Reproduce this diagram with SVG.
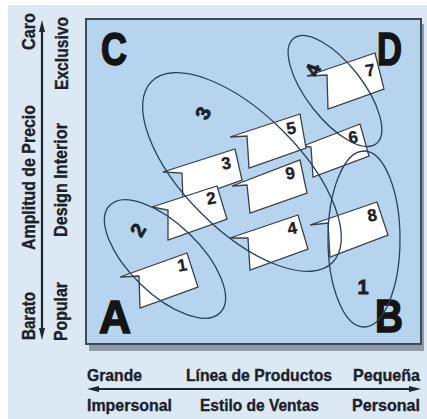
<svg xmlns="http://www.w3.org/2000/svg" width="427" height="419" viewBox="0 0 427 419">
<style>
.t{font-family:'Liberation Sans Narrow','Liberation Sans',Arial,sans-serif;font-weight:bold;fill:#1b2128;stroke:#1b2128;stroke-width:0.35}
.ax{font-size:18px}
.bx{font-size:17px}
.big{font-size:46px;fill:#141414;stroke:#141414;stroke-width:1.6}
.num{font-size:17px;text-anchor:middle}
.enum{font-size:20px;text-anchor:middle;stroke-width:0.8}
.tag{fill:#ffffff;stroke:#38414b;stroke-width:1.3;stroke-linejoin:miter}
.ell{fill:none;stroke:#29425c;stroke-width:1.3}
.arr{stroke:#1c2530;stroke-width:2.2;fill:none}
</style>
<defs>
<marker id="ah" viewBox="0 0 12 6" refX="2" refY="3" markerWidth="12" markerHeight="6" markerUnits="userSpaceOnUse" orient="auto-start-reverse">
<path d="M0,0 L12,3 L0,6 z" fill="#1c2530"/>
</marker>
</defs>
<rect x="0" y="0" width="427" height="419" fill="#ffffff"/>
<rect x="8" y="5" width="419" height="414" fill="#dce8f4"/>
<g id="frame">
<rect x="89" y="24" width="335" height="327" fill="#8e9aa6"/>
<rect x="86" y="19" width="335" height="325" fill="#b7d4ee" stroke="#3c4a58" stroke-width="2"/>
</g>
<g id="axes">
<line class="arr" x1="42" y1="30" x2="42" y2="330" marker-start="url(#ah)" marker-end="url(#ah)"/>
<line class="arr" x1="97" y1="389" x2="411" y2="389" marker-start="url(#ah)" marker-end="url(#ah)"/>
<text class="t ax" x="35" y="31.5" text-anchor="middle" textLength="37" lengthAdjust="spacingAndGlyphs" transform="rotate(-90 35 31.5)">Caro</text>
<text class="t ax" x="35" y="177.5" text-anchor="middle" textLength="145" lengthAdjust="spacingAndGlyphs" transform="rotate(-90 35 177.5)">Amplitud de Precio</text>
<text class="t ax" x="35" y="316" text-anchor="middle" textLength="48" lengthAdjust="spacingAndGlyphs" transform="rotate(-90 35 316)">Barato</text>
<text class="t ax" x="68" y="53.5" text-anchor="middle" textLength="73" lengthAdjust="spacingAndGlyphs" transform="rotate(-90 68 53.5)">Exclusivo</text>
<text class="t ax" x="67" y="180" text-anchor="middle" textLength="114" lengthAdjust="spacingAndGlyphs" transform="rotate(-90 67 180)">Design Interior</text>
<text class="t ax" x="67" y="311.5" text-anchor="middle" textLength="59" lengthAdjust="spacingAndGlyphs" transform="rotate(-90 67 311.5)">Popular</text>
<text class="t bx" x="87" y="381" textLength="55" lengthAdjust="spacingAndGlyphs">Grande</text>
<text class="t bx" x="186" y="381" textLength="146" lengthAdjust="spacingAndGlyphs">Línea de Productos</text>
<text class="t bx" x="353" y="381" textLength="67" lengthAdjust="spacingAndGlyphs">Pequeña</text>
<text class="t bx" x="87" y="411" textLength="85" lengthAdjust="spacingAndGlyphs">Impersonal</text>
<text class="t bx" x="200" y="411" textLength="119" lengthAdjust="spacingAndGlyphs">Estilo de Ventas</text>
<text class="t bx" x="352" y="411" textLength="68" lengthAdjust="spacingAndGlyphs">Personal</text>
</g>
<g id="corners">
<text class="t big" x="101" y="65" textLength="26" lengthAdjust="spacingAndGlyphs">C</text>
<text class="t big" x="377" y="65" textLength="25" lengthAdjust="spacingAndGlyphs">D</text>
<text class="t big" x="99" y="333" textLength="32" lengthAdjust="spacingAndGlyphs">A</text>
<text class="t big" x="375" y="332" textLength="28" lengthAdjust="spacingAndGlyphs">B</text>
</g>
<g id="tag6"><polygon class="tag" points="303,146 360,124 369,156 313,177 311,147"/><text class="t num" x="353" y="143" transform="rotate(-10 353 137)">6</text></g>
<g id="tag5"><polygon class="tag" points="230,137 300,114 306,148 249,168 247,136"/><text class="t num" x="291" y="134" transform="rotate(-10 291 128)">5</text></g>
<g id="tag9"><polygon class="tag" points="232,186 300,160 307,193 250,213 247,185"/><text class="t num" x="290" y="179" transform="rotate(-10 290 173)">9</text></g>
<g id="tag3"><polygon class="tag" points="163,172 235,149 242,180 183,201 182,173"/><text class="t num" x="226" y="169" transform="rotate(-10 226 163)">3</text></g>
<g id="tag2"><polygon class="tag" points="152,207 217,186 227,219 168,240 168,210"/><text class="t num" x="211" y="204" transform="rotate(-10 211 198)">2</text></g>
<g id="tag1"><polygon class="tag" points="120,277 187,253 198,287 140,308 139,276"/><text class="t num" x="182" y="271" transform="rotate(-10 182 265)">1</text></g>
<g id="tag7"><polygon class="tag" points="307,76 375,53 384,89 328,109 327,75"/><text class="t num" x="370" y="76" transform="rotate(-10 370 70)">7</text></g>
<g id="tag4"><polygon class="tag" points="230,238 298,215 308,249 250,270 248,238"/><text class="t num" x="292" y="234" transform="rotate(-10 292 228)">4</text></g>
<g id="tag8"><polygon class="tag" points="310,225 377,202 388,235 330,257 328,223"/><text class="t num" x="372" y="221" transform="rotate(-10 372 215)">8</text></g>
<g id="group2"><ellipse class="ell" cx="165" cy="259" rx="77" ry="35" transform="rotate(44 165 259)"/><text class="t enum" x="138" y="237" transform="rotate(-60 138 230)">2</text></g>
<g id="group3"><ellipse class="ell" cx="242" cy="172" rx="128" ry="58" transform="rotate(45 242 172)"/><text class="t enum" x="203" y="120" transform="rotate(-65 203 113)">3</text></g>
<g id="group4"><ellipse class="ell" cx="335" cy="91" rx="67" ry="28" transform="rotate(52 335 91)"/><text class="t enum" x="313" y="77" transform="rotate(-70 313 70)">4</text></g>
<g id="group1"><ellipse class="ell" cx="364" cy="239" rx="36" ry="88"/><text class="t enum" x="363" y="294">1</text></g>
</svg>
